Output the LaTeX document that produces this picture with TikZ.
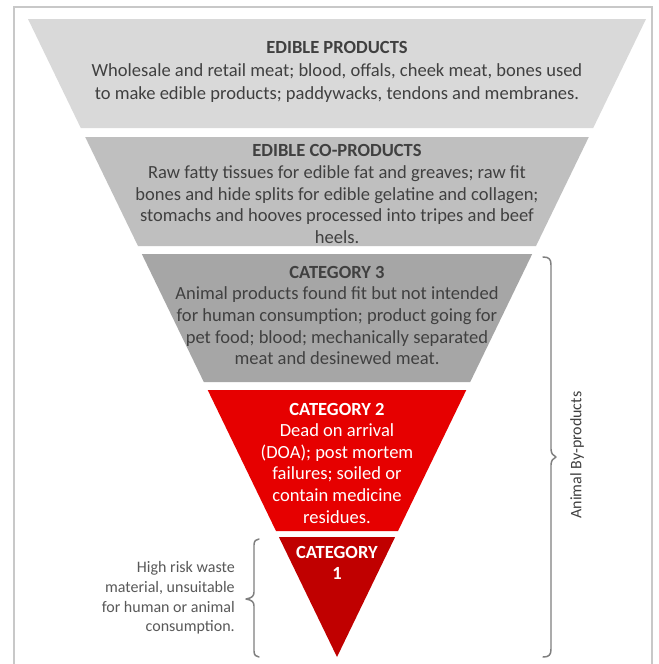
\documentclass[tikz,border=0pt]{standalone}
\usepackage{fontspec}
\setmainfont{Carlito}
\begin{document}
\begin{tikzpicture}[x=0.75pt,y=-0.75pt,
  grey text/.style={text=textgrey, align=center, font=\fontsize{13.9}{16.2}\selectfont, inner sep=0pt},
  red text/.style={text=white, align=center, font=\fontsize{13.9}{16.2}\selectfont, inner sep=0pt},
  bracket/.style={draw=bracegrey, line width=1.1pt, line cap=round, line join=round},
  side note/.style={text=notegrey, inner sep=0pt}]
\definecolor{band1}{HTML}{D9D9D9}
\definecolor{band2}{HTML}{BFBFBF}
\definecolor{band3}{HTML}{A6A6A6}
\definecolor{band4}{HTML}{E60000}
\definecolor{band5}{HTML}{C00000}
\definecolor{textgrey}{HTML}{404040}
\definecolor{notegrey}{HTML}{595959}
\definecolor{bracegrey}{HTML}{7F7F7F}
\definecolor{framegrey}{HTML}{C8C8C8}

\useasboundingbox (0,0) rectangle (658,664);
\fill[white] (0,0) rectangle (658,664);

% outer frame (its lower edge lies below the page)
\draw[framegrey, line width=1.2pt] (14,664) -- (14,7) -- (652,7) -- (652,664);

% the inverted pyramid, cut into five bands
\fill[band1] (28,19) -- (646,19) -- (593.2,128) -- (80.8,128) -- cycle;
\fill[band2] (85.2,137) -- (588.8,137) -- (536,246) -- (138,246) -- cycle;
\fill[band3] (141.8,254) -- (532.2,254) -- (470.2,382) -- (203.8,382) -- cycle;
\fill[band4] (207.7,390) -- (466.3,390) -- (398,531) -- (276,531) -- cycle;
\fill[band5] (278.9,537) -- (395.1,537) -- (337,657) -- cycle;

% band texts
\node[grey text, font=\fontsize{13.9}{17.4}\selectfont] (edible) at (337,72)
  {\textbf{EDIBLE PRODUCTS}\\
   Wholesale and retail meat; blood, offals, cheek meat, bones used\\
   to make edible products; paddywacks, tendons and membranes.};
\node[grey text] (coprod) at (337,194)
  {\textbf{EDIBLE CO-PRODUCTS}\\
   Raw fatty tissues for edible fat and greaves; raw fit\\
   bones and hide splits for edible gelatine and collagen;\\
   stomachs and hooves processed into tripes and beef\\
   heels.};
\node[grey text] (cat3) at (337,315.5)
  {\textbf{CATEGORY 3}\\
   Animal products found fit but not intended\\
   for human consumption; product going for\\
   pet food; blood; mechanically separated\\
   meat and desinewed meat.};
\node[red text] (cat2) at (337,463)
  {\textbf{CATEGORY 2}\\
   Dead on arrival\\
   (DOA); post mortem\\
   failures; soiled or\\
   contain medicine\\
   residues.};
\node[red text] (cat1) at (337,563)
  {\textbf{CATEGORY}\\ \textbf{1}};

% brace grouping categories 3, 2 and 1
\coordinate (abpTop) at (543,257);
\coordinate (abpTip) at (556,457);
\coordinate (abpBot) at (543,657);
\draw[bracket] (abpTop) .. controls (549,257) and (551,259) .. (551,265)
  -- (551,449) .. controls (551,453) and (553,456) .. (abpTip)
  .. controls (553,458) and (551,461) .. (551,465)
  -- (551,649) .. controls (551,655) and (549,657) .. (abpBot);
\node[side note, text=textgrey, rotate=90, font=\fontsize{12}{14}\selectfont]
  (abp) at (577,455) {Animal By-products};

% brace beside category 1
\coordinate (c1Top) at (259,539);
\coordinate (c1Tip) at (246,599);
\coordinate (c1Bot) at (259,657);
\draw[bracket] (c1Top) .. controls (256,539) and (254,541) .. (254,545)
  -- (254,592) .. controls (254,596) and (252,598) .. (c1Tip)
  .. controls (252,600) and (254,602) .. (254,606)
  -- (254,651) .. controls (254,655) and (256,657) .. (c1Bot);
\node[side note, align=right, anchor=east, font=\fontsize{12}{14.8}\selectfont]
  (risk) at (235,598)
  {High risk waste\\ material, unsuitable\\ for human or animal\\ consumption.};
\end{tikzpicture}
\end{document}
